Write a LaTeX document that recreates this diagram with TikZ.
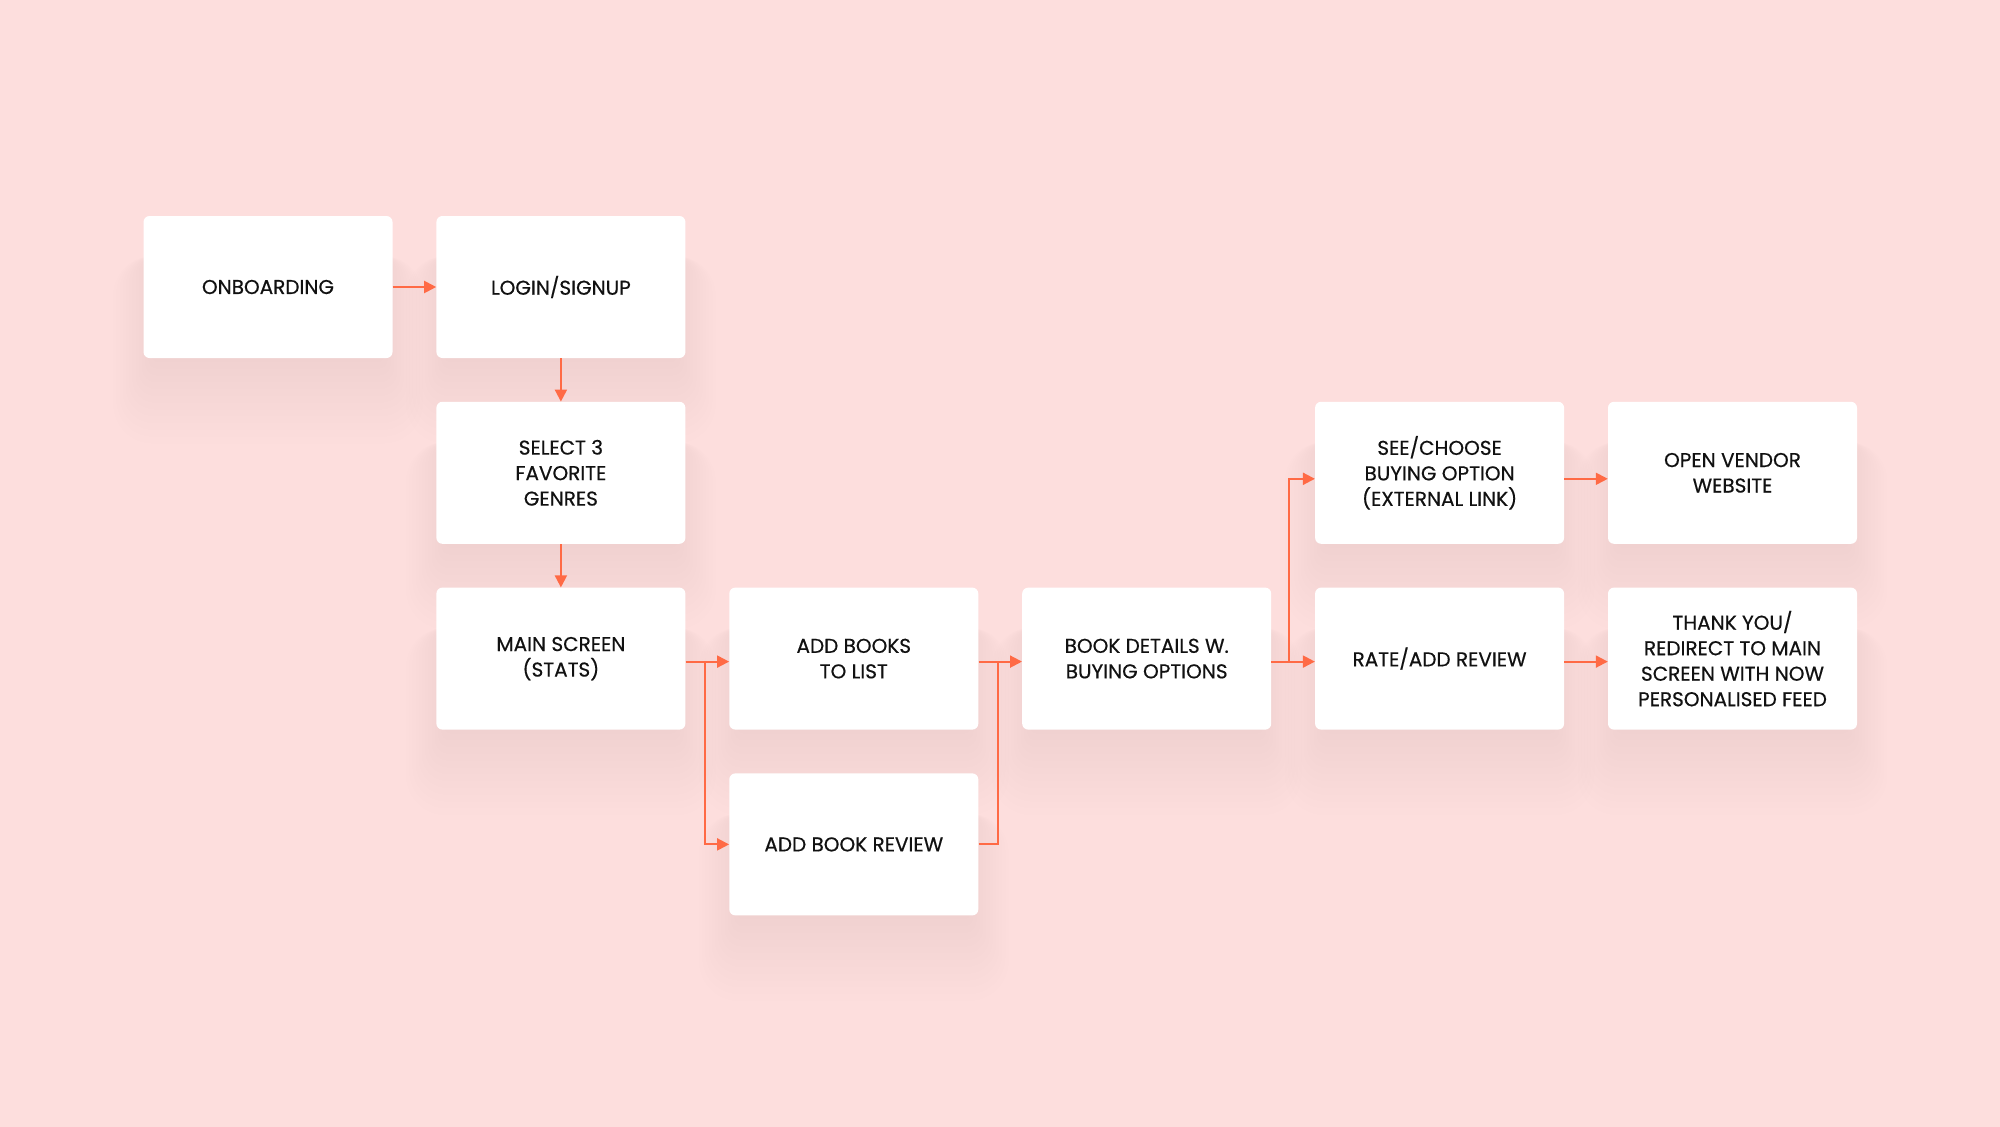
\documentclass[tikz,border=0pt]{standalone}
\usepackage{fontspec}
\setmainfont{Poppins}[FakeBold=0.5]
\usetikzlibrary{arrows.meta,calc}
\definecolor{bg}{HTML}{FDDEDD}
\definecolor{arr}{HTML}{FF6A45}
\definecolor{txt}{HTML}{111111}
\pgfdeclarelayer{back}
\pgfdeclarelayer{shade}
\pgfsetlayers{back,shade,main}
\tikzset{
  card/.style={draw=none, fill=white, rounded corners=6pt, minimum width=249pt, minimum height=142pt,
    inner sep=0pt, align=center, text=txt, font=\fontsize{20}{25.5}\selectfont},
  flow/.style={draw=arr, line width=2pt, -{Triangle[length=12pt,width=12pt]}},
  shadowlayer/.style={fill=black, fill opacity=0.0037},
}
\newcommand{\mycard}[4]{%
  \begin{pgfonlayer}{shade}
    \foreach \e in {0,4,...,48} {
      \fill[shadowlayer, rounded corners={6+0.7*\e}]
        ($(#2,#3)+(-116.5-0.8*\e,75+1.7*\e)$) rectangle ($(#2,#3)+(116.5+0.8*\e,-31)$);
    }
  \end{pgfonlayer}
  \node[card] (#1) at (#2,#3) {#4};
}
\begin{document}
\begin{tikzpicture}[x=1pt,y=-1pt]
\begin{pgfonlayer}{back}
\fill[bg] (0,0) rectangle (2000,1127);
\end{pgfonlayer}
\useasboundingbox (0,0) rectangle (2000,1127);
\mycard{onb}{268}{287}{ONBOARDING}
\mycard{login}{560.9}{287}{LOGIN/SIGNUP}
\mycard{genres}{560.9}{472.8}{SELECT 3\\FAVORITE\\GENRES}
\mycard{main}{560.9}{658.6}{MAIN SCREEN\\(STATS)}
\mycard{books}{853.8}{658.6}{ADD BOOKS\\TO LIST}
\mycard{review}{853.8}{844.4}{ADD BOOK REVIEW}
\mycard{details}{1146.7}{658.6}{BOOK DETAILS W.\\BUYING OPTIONS}
\mycard{see}{1439.6}{472.8}{SEE/CHOOSE\\BUYING OPTION\\(EXTERNAL LINK)}
\mycard{rate}{1439.6}{658.6}{RATE/ADD REVIEW}
\mycard{vendor}{1732.5}{472.8}{OPEN VENDOR\\WEBSITE}
\mycard{thank}{1732.5}{658.6}{THANK YOU/\\REDIRECT TO MAIN\\SCREEN WITH NOW\\PERSONALISED FEED}

\coordinate (j1) at ([xshift=19pt,yshift=-3pt]main.east);
\draw[flow] (onb.east) -- (login.west);
\draw[flow] (login.south) -- (genres.north);
\draw[flow] (genres.south) -- (main.north);
\draw[flow] ([yshift=-3pt]main.east) -- ([yshift=-3pt]books.west);
\draw[flow] (j1) -- (j1 |- review.west) -- (review.west);
\draw[flow] ([yshift=-3pt]books.east) -- ([yshift=-3pt]details.west);
\draw[draw=arr, line width=2pt] (review.east) -| ([yshift=-3pt,xshift=19pt]books.east);
\draw[flow] ([yshift=-3pt]details.east) -- ([yshift=-3pt]rate.west);
\draw[flow] ([yshift=-3pt,xshift=18pt]details.east) |- ([yshift=-6pt]see.west);
\draw[flow] ([yshift=-6pt]see.east) -- ([yshift=-6pt]vendor.west);
\draw[flow] ([yshift=-3pt]rate.east) -- ([yshift=-3pt]thank.west);
\end{tikzpicture}
\end{document}
